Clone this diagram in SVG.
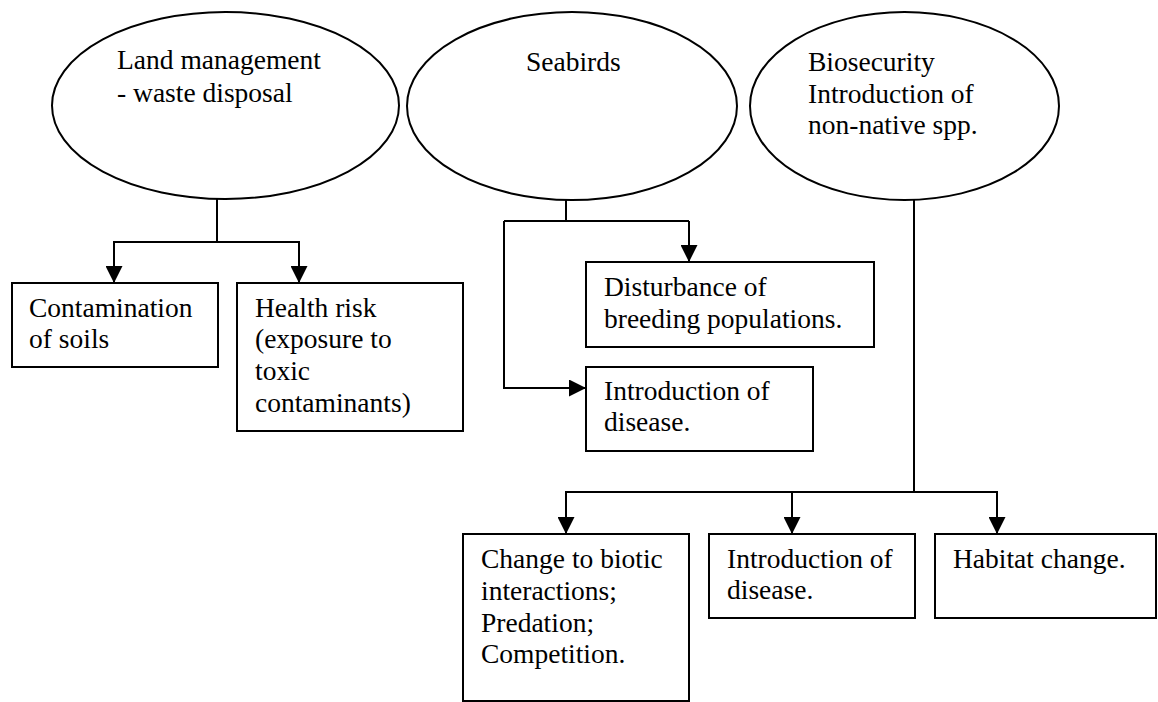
<svg xmlns="http://www.w3.org/2000/svg" width="1158" height="702" viewBox="0 0 1158 702">
  <style>
    .shape { fill: #ffffff; stroke: #000000; stroke-width: 2; }
    .link { fill: none; stroke: #000000; stroke-width: 2; }
    .arrow { marker-end: url(#head); }
    .t { font-family: "Liberation Serif", "Times New Roman", serif; font-size: 27.5px; fill: #000000; }
  </style>
  <defs>
    <marker id="head" viewBox="0 0 17 17" markerWidth="17" markerHeight="17" refX="17" refY="8.5" orient="auto" markerUnits="userSpaceOnUse">
      <path d="M0,0 L17,8.5 L0,17 Z" fill="#000000"/>
    </marker>
  </defs>
  <rect width="1158" height="702" fill="#ffffff"/>

  <!-- connectors -->
  <g id="connectors">
    <!-- land management branch -->
    <polyline class="link" points="217,199 217,242"/>
    <polyline class="link" points="114,242 299,242"/>
    <line class="link arrow" x1="114" y1="241" x2="114" y2="283"/>
    <line class="link arrow" x1="299" y1="241" x2="299" y2="283"/>
    <!-- seabirds branch -->
    <polyline class="link" points="566,200 566,221"/>
    <polyline class="link arrow" points="689,221 689,262"/>
    <polyline class="link" points="504,221 689,221"/>
    <polyline class="link arrow" points="504,221 504,388 586,388"/>
    <!-- biosecurity branch -->
    <polyline class="link" points="914,199 914,492"/>
    <polyline class="link" points="566,492 997,492"/>
    <line class="link arrow" x1="566" y1="491" x2="566" y2="534"/>
    <line class="link arrow" x1="792" y1="491" x2="792" y2="534"/>
    <line class="link arrow" x1="997" y1="491" x2="997" y2="534"/>
  </g>

  <!-- top-level topics -->
  <g id="land-management">
    <ellipse class="shape" cx="225.5" cy="105.5" rx="173.5" ry="93.5"/>
    <text class="t" x="117" y="69"><tspan x="117" y="69">Land management</tspan><tspan x="117" y="101.5">- waste disposal</tspan></text>
  </g>
  <g id="seabirds">
    <ellipse class="shape" cx="572" cy="106" rx="165" ry="94"/>
    <text class="t" x="526" y="71">Seabirds</text>
  </g>
  <g id="biosecurity">
    <ellipse class="shape" cx="904.5" cy="106" rx="154.5" ry="94"/>
    <text class="t" x="808" y="71"><tspan x="808" y="71">Biosecurity</tspan><tspan x="808" y="102.5">Introduction of</tspan><tspan x="808" y="134">non-native spp.</tspan></text>
  </g>

  <!-- impacts -->
  <g id="soil-contamination">
    <rect class="shape" x="12" y="283" width="206" height="84"/>
    <text class="t" x="29" y="316.5"><tspan x="29" y="316.5">Contamination</tspan><tspan x="29" y="348">of soils</tspan></text>
  </g>
  <g id="health-risk">
    <rect class="shape" x="237" y="283" width="226" height="148"/>
    <text class="t" x="255" y="316.5"><tspan x="255" y="316.5">Health risk</tspan><tspan x="255" y="348">(exposure to</tspan><tspan x="255" y="380">toxic</tspan><tspan x="255" y="412">contaminants)</tspan></text>
  </g>
  <g id="breeding-disturbance">
    <rect class="shape" x="586" y="262" width="288" height="85"/>
    <text class="t" x="604" y="296"><tspan x="604" y="296">Disturbance of</tspan><tspan x="604" y="327.5">breeding populations.</tspan></text>
  </g>
  <g id="seabird-disease">
    <rect class="shape" x="586" y="367" width="227" height="84"/>
    <text class="t" x="604" y="400"><tspan x="604" y="400">Introduction of</tspan><tspan x="604" y="431">disease.</tspan></text>
  </g>
  <g id="biotic-interactions">
    <rect class="shape" x="463" y="534" width="226" height="167"/>
    <text class="t" x="481" y="567.5"><tspan x="481" y="567.5">Change to biotic</tspan><tspan x="481" y="599.5">interactions;</tspan><tspan x="481" y="631.5">Predation;</tspan><tspan x="481" y="663">Competition.</tspan></text>
  </g>
  <g id="species-disease">
    <rect class="shape" x="709" y="534" width="206" height="84"/>
    <text class="t" x="727" y="567.5"><tspan x="727" y="567.5">Introduction of</tspan><tspan x="727" y="599">disease.</tspan></text>
  </g>
  <g id="habitat-change">
    <rect class="shape" x="935" y="534" width="221" height="84"/>
    <text class="t" x="953" y="567.5">Habitat change.</text>
  </g>
</svg>
